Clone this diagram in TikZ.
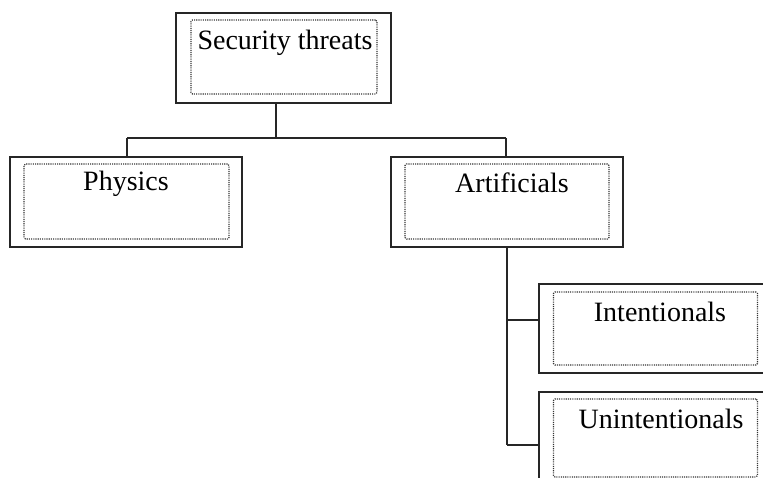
\documentclass[tikz,border=0pt]{standalone}
\usepackage{fontspec}
\setmainfont{Liberation Serif}
\begin{document}
\begin{tikzpicture}[x=1pt,y=-1pt,
  outerbox/.style={draw=black!85,line width=1.4pt,rectangle,inner sep=0pt},
  innerbox/.style={draw=black!80,line width=1.1pt,dash pattern=on 1.1pt off 1.1pt,rounded corners=1.5pt,rectangle,inner sep=0pt},
  lbl/.style={anchor=base,inner sep=0pt,font=\fontsize{28}{32}\selectfont},
  conn/.style={draw=black!85,line width=1.1pt}]
\useasboundingbox (0,0) rectangle (763,478);
\clip (0,0) rectangle (763,478);
% outer boxes
\node[outerbox,minimum width=215pt,minimum height=90pt] (top) at (283.5,58) {};
\node[outerbox,minimum width=232pt,minimum height=90pt] (phys) at (126,202) {};
\node[outerbox,minimum width=232pt,minimum height=90pt] (art) at (507,202) {};
\node[outerbox,minimum width=240pt,minimum height=89pt] (int) at (659,328.5) {};
\node[outerbox,minimum width=240pt,minimum height=100pt] (unint) at (659,442) {};
% inner dotted boxes
\node[innerbox,minimum width=186pt,minimum height=74pt] (topi) at (284,57) {};
\node[innerbox,minimum width=205pt,minimum height=75pt] (physi) at (126.5,201.5) {};
\node[innerbox,minimum width=204pt,minimum height=75pt] (arti) at (507,201.5) {};
\node[innerbox,minimum width=204pt,minimum height=73pt] (inti) at (655.5,328.5) {};
\node[innerbox,minimum width=204pt,minimum height=78pt] (uninti) at (655.5,438) {};
% labels
\node[lbl] (t1) at (285,50) {Security threats};
\node[lbl] (t2) at (126,191) {Physics};
\node[lbl] (t3) at (512,193) {Artificials};
\node[lbl] (t4) at (660,321) {Intentionals};
\node[lbl] (t5) at (661,428) {Unintentionals};
% junctions
\coordinate (j1) at (276,138);
\coordinate (jp) at (127,138);
\coordinate (ja) at (506,138);
\coordinate (v1) at (507,320);
\coordinate (v2) at (507,445);
% connectors
\draw[conn] (top.south -| j1) -- (j1);
\draw[conn] (jp) -- (ja);
\draw[conn] (jp) -- (phys.north -| jp);
\draw[conn] (ja) -- (art.north -| ja);
\draw[conn] (art.south -| v1) -- (v2);
\draw[conn] (v1) -- (int.west |- v1);
\draw[conn] (v2) -- (unint.west |- v2);
\end{tikzpicture}
\end{document}
